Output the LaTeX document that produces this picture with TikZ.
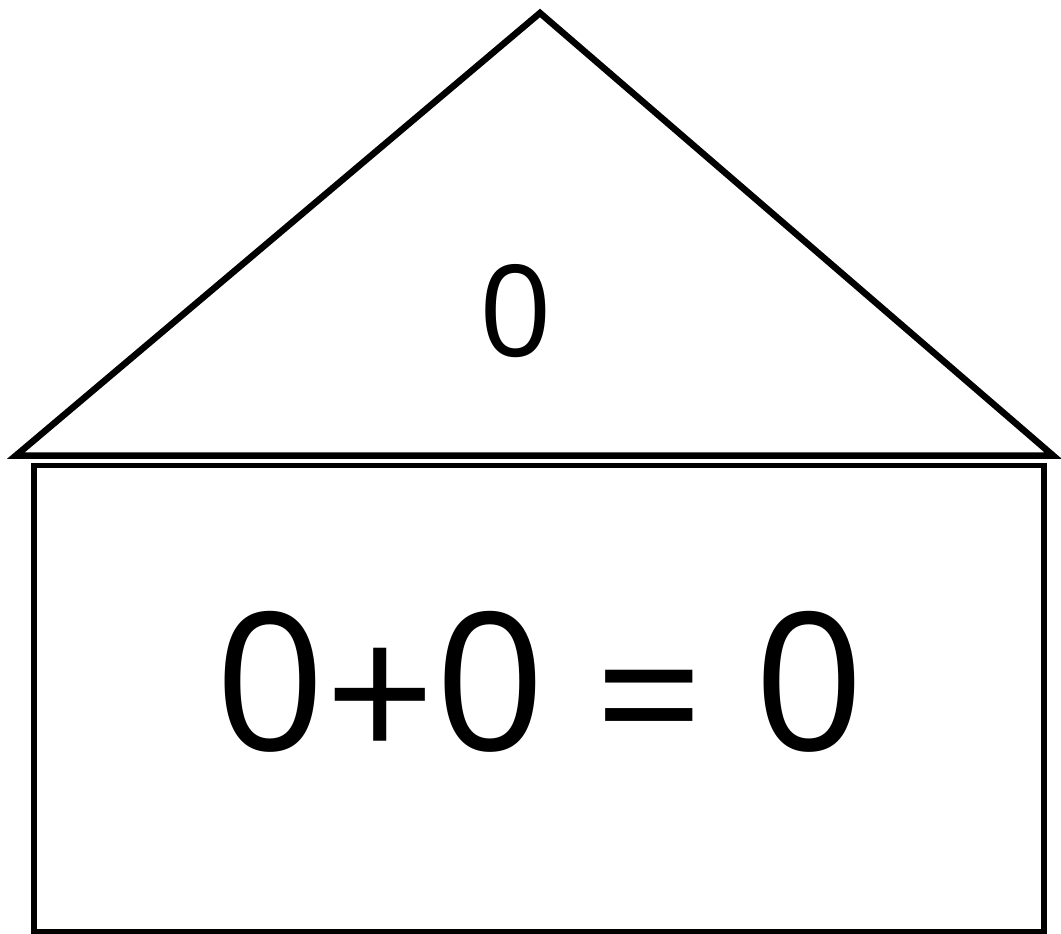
\documentclass[tikz,border=0pt]{standalone}
\usepackage{fontspec}
\setmainfont{Open Sans}
\begin{document}
\begin{tikzpicture}[x=1pt,y=-1pt,
  outline/.style={draw=black,line join=miter,line cap=butt},
  lbl/.style={inner sep=0pt,anchor=center}]
\useasboundingbox (0,0) rectangle (1061,934);
% roof
\draw[outline,line width=6.5pt] (16,455.5) -- (540,13) -- (1053,455.5) -- cycle;
% body
\draw[outline,line width=5.5pt] (34,465.5) rectangle (1044,931.5);
\node[lbl,font=\fontsize{127}{130}\selectfont] (roof) at (515.5,311.5) {0};
\node[lbl,anchor=base,font=\fontsize{192}{196}\selectfont] (sum) at (540,750) {0\raisebox{-12pt}{+}0 \raisebox{-13pt}{=} 0};
\end{tikzpicture}
\end{document}
